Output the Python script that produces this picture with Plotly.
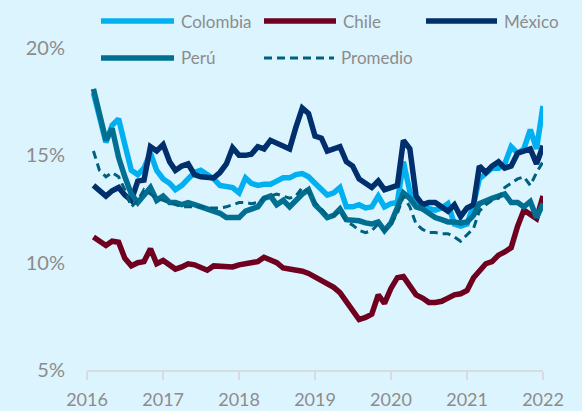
import plotly.graph_objects as go
import pandas as pd

months = pd.date_range("2016-02-01", periods=72, freq="MS")

colombia = [17.9, 16.7, 15.6, 16.4, 16.7, 15.5, 14.3, 14.1, 14.4, 15.1,
            14.3, 13.9, 13.7, 13.4, 13.6, 13.9, 14.2, 14.3, 14.1, 13.9,
            13.6, 13.55, 13.5, 13.25, 13.95, 13.7, 13.6, 13.65, 13.65, 13.8,
            13.95, 13.95, 14.1, 14.15, 14.0, 13.7, 13.4, 13.15, 13.25, 13.5,
            12.6, 12.6, 12.7, 12.55, 12.6, 13.1, 12.6, 12.75, 12.8, 14.7,
            13.3, 12.7, 12.6, 12.55, 12.45, 12.55, 12.75, 11.8, 11.7, 11.8,
            12.7, 13.9, 14.2, 14.4, 14.4, 14.6, 15.4, 15.1, 15.3, 16.2,
            15.3, 17.3]
chile = [11.2, 11.0, 10.8, 11.0, 10.95, 10.2, 9.85, 10.0, 10.05, 10.65,
         9.95, 10.1, 9.9, 9.7, 9.8, 9.95, 9.9, 9.75, 9.65, 9.85,
         9.85, 9.8, 9.8, 9.9, 9.95, 10.0, 10.05, 10.25, 10.15, 10.0,
         9.75, 9.7, 9.7, 9.6, 9.5, 9.35, 9.2, 9.0, 8.85, 8.6,
         8.2, 7.85, 7.35, 7.45, 7.6, 8.5, 8.1, 8.8, 9.3, 9.35,
         8.9, 8.5, 8.35, 8.15, 8.15, 8.2, 8.35, 8.5, 8.55, 8.7,
         9.3, 9.6, 9.95, 10.05, 10.35, 10.5, 10.7, 11.7, 12.45, 12.25,
         12.05, 13.1]
mexico = [13.6, 13.35, 13.1, 13.35, 13.5, 13.15, 12.9, 13.8, 13.85, 15.4,
          15.2, 15.5, 14.7, 14.3, 14.5, 14.6, 14.1, 14.0, 14.0, 13.95,
          14.2, 14.6, 15.35, 15.0, 15.0, 15.05, 15.4, 15.3, 15.7, 15.55,
          15.4, 15.3, 16.3, 17.2, 16.95, 15.9, 15.8, 15.2, 15.3, 15.4,
          14.7, 14.5, 13.9, 13.7, 13.5, 13.8, 13.4, 13.5, 13.6, 15.7,
          15.3, 13.1, 12.7, 12.8, 12.8, 12.6, 12.4, 12.7, 12.15, 12.55,
          12.7, 14.5, 14.2, 14.5, 14.7, 14.4, 14.5, 15.1, 15.2, 15.3,
          14.6, 15.45]
peru = [18.1, 16.8, 15.7, 16.25, 14.9, 14.0, 13.2, 12.8, 13.1, 13.5,
        12.9, 13.1, 12.8, 12.8, 12.7, 12.8, 12.7, 12.6, 12.5, 12.4,
        12.3, 12.1, 12.1, 12.1, 12.4, 12.5, 12.6, 13.0, 13.1, 12.7,
        12.9, 12.6, 12.9, 13.2, 13.4, 12.7, 12.4, 12.1, 12.2, 12.5,
        12.0, 12.0, 11.95, 11.85, 11.8, 11.9, 11.5, 11.85, 12.5, 13.25,
        13.0, 12.6, 12.5, 12.3, 12.1, 12.0, 11.9, 11.9, 11.85, 11.9,
        12.2, 12.75, 12.9, 13.0, 13.1, 13.2, 12.8, 12.8, 12.6, 12.85,
        12.1, 12.75]
promedio = [15.2, 14.3, 14.0, 14.2, 14.0, 13.4, 12.6, 12.9, 13.4, 13.2,
            13.0, 12.9, 12.8, 12.7, 12.6, 12.6, 12.6, 12.6, 12.55, 12.55,
            12.55, 12.6, 12.7, 12.8, 12.8, 12.75, 12.8, 13.0, 13.1, 13.2,
            13.1, 13.0, 13.1, 13.5, 13.3, 12.8, 12.5, 12.2, 12.2, 12.4,
            11.9, 11.75, 11.5, 11.4, 11.5, 11.8, 11.5, 11.8, 12.3, 13.1,
            12.6, 11.8, 11.55, 11.4, 11.4, 11.35, 11.35, 11.2, 11.0, 11.3,
            11.6, 12.4, 12.7, 12.9, 13.0, 13.5, 13.7, 13.9, 14.0, 13.6,
            14.2, 14.7]

years = [2016, 2017, 2018, 2019, 2020, 2021, 2022]
y_ticks = [5, 10, 15, 20]
y_labels = ["5%", "10%", "15%", "20%"]

series = [
    ("Colombia", colombia, "#00B0F0", None, 5.5),
    ("Chile", chile, "#70001F", None, 5.5),
    ("México", mexico, "#002F6C", None, 5.5),
    ("Perú", peru, "#006F91", None, 5.5),
    ("Promedio", promedio, "#00607F", "8px,5px", 3),
]

BG = "#DCF4FE"
TXT = "#8C8C8C"
FONT = "Lato, Open Sans, sans-serif"

W, H = 582, 411
ML, MR, MT, MB = 87, 39, 48, 41
PW, PH = W - ML - MR, H - MT - MB

fig = go.Figure()
for name, vals, color, dash, width in series:
    fig.add_trace(go.Scatter(
        x=months, y=vals, mode="lines", name=name,
        line=dict(color=color, width=width, dash=dash),
        showlegend=False, hoverinfo="skip"))

def px_x(px):
    return (px - ML) / PW

def px_y(py):
    return (H - MB - py) / PH

legend_items = [
    ("Colombia", "#00B0F0", None, 5.5, 101, 174, 21),
    ("Chile", "#70001F", None, 5.5, 264, 336, 21),
    ("México", "#002F6C", None, 5.5, 426, 497, 21),
    ("Perú", "#006F91", None, 5.5, 101, 174, 58),
    ("Promedio", "#00607F", "8px,5px", 3, 264, 334, 58),
]
shapes = []
annotations = []
for name, color, dash, width, x0, x1, yy in legend_items:
    shapes.append(dict(type="line", xref="paper", yref="paper",
                       x0=px_x(x0), x1=px_x(x1), y0=px_y(yy), y1=px_y(yy),
                       line=dict(color=color, width=width, dash=dash)))
    annotations.append(dict(xref="paper", yref="paper", x=px_x(x1 + 5), y=px_y(yy),
                            text=name, showarrow=False, xanchor="left", yanchor="middle",
                            font=dict(family=FONT, size=17, color=TXT)))

fig.update_layout(
    width=W, height=H,
    margin=dict(l=ML, r=MR, t=MT, b=MB, autoexpand=False),
    paper_bgcolor=BG, plot_bgcolor=BG,
    shapes=shapes, annotations=annotations,
    xaxis=dict(
        type="date", automargin=False,
        range=["2016-01-01", "2022-01-01"],
        tickvals=[f"{y}-01-01" for y in years],
        ticktext=[str(y) for y in years],
        showgrid=False, zeroline=False,
        showline=True, linecolor="#D6DCDF", linewidth=2,
        ticks="outside", ticklen=8, tickwidth=2, tickcolor="#D6DCDF",
        tickfont=dict(family=FONT, size=18, color=TXT),
        ticklabelstandoff=4,
    ),
    yaxis=dict(
        automargin=False,
        range=[5, 20],
        tickvals=y_ticks, ticktext=y_labels,
        showgrid=False, zeroline=False, showline=False,
        ticks="", tickfont=dict(family=FONT, size=20, color=TXT),
        ticklabelstandoff=21,
    ),
)

fig.write_html("out.html", config={"displayModeBar": False, "staticPlot": True},
               post_script="document.body.style.margin='0px';")
